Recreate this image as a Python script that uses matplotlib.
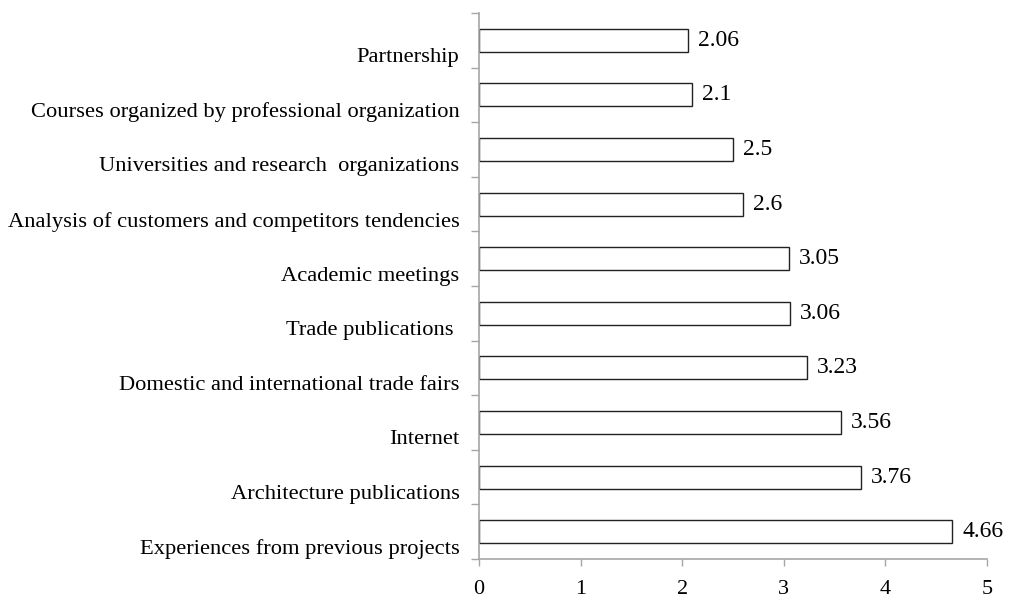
import matplotlib
matplotlib.use("Agg")
import matplotlib.pyplot as plt
from matplotlib.transforms import ScaledTranslation

# fuentes de informacion, de abajo hacia arriba
fuentes = [
    "Experiences from previous projects",
    "Architecture publications",
    "Internet",
    "Domestic and international trade fairs",
    "Trade publications ",
    "Academic meetings",
    "Analysis of customers and competitors tendencies",
    "Universities and research  organizations",
    "Courses organized by professional organization",
    "Partnership",
]
medias = [4.66, 3.76, 3.56, 3.23, 3.06, 3.05, 2.6, 2.5, 2.1, 2.06]
etiquetas = ["4.66", "3.76", "3.56", "3.23", "3.06", "3.05", "2.6", "2.5", "2.1", "2.06"]
ticks_x = [0, 1, 2, 3, 4, 5]

plt.rcParams["font.family"] = ["Liberation Serif", "DejaVu Serif"]
gris = "#a6a6a6"

fig = plt.figure(figsize=(10.15, 6.01), dpi=100)
ax = fig.add_axes([0.472, 0.070, 0.5004, 0.9084])

pos = list(range(len(fuentes)))
ax.barh(pos, medias, height=0.42, color="white", edgecolor="#222222", linewidth=1.0)

for p, v, t in zip(pos, medias, etiquetas):
    ax.annotate(t, (v, p), xytext=(7, 0), textcoords="offset points",
                va="center", ha="left", fontsize=17)

ax.set_xlim(0, 5)
ax.set_ylim(-0.5, len(fuentes) - 0.5)
ax.set_xticks(ticks_x)
ax.set_xticklabels([str(t) for t in ticks_x], fontsize=16)

# marcas del eje y entre categorias, textos algo mas abajo
ax.set_yticks([p - 0.5 for p in pos] + [len(fuentes) - 0.5])
ax.set_yticklabels([])
ax.set_yticks(pos, minor=True)
ax.set_yticklabels(fuentes, minor=True, fontsize=16.2)
ax.tick_params(axis="y", which="minor", length=0, pad=14)
ax.tick_params(axis="y", which="major", length=6, color=gris, width=1)
ax.tick_params(axis="x", length=5, color=gris, width=1, pad=10)
desplazamiento = ScaledTranslation(0, -15 / 100, fig.dpi_scale_trans)
for lab in ax.get_yticklabels(minor=True):
    lab.set_transform(lab.get_transform() + desplazamiento)

for lado in ["top", "right"]:
    ax.spines[lado].set_visible(False)
for lado in ["left", "bottom"]:
    ax.spines[lado].set_color(gris)
    ax.spines[lado].set_linewidth(1.2)

fig.savefig("out.png", dpi=100)
